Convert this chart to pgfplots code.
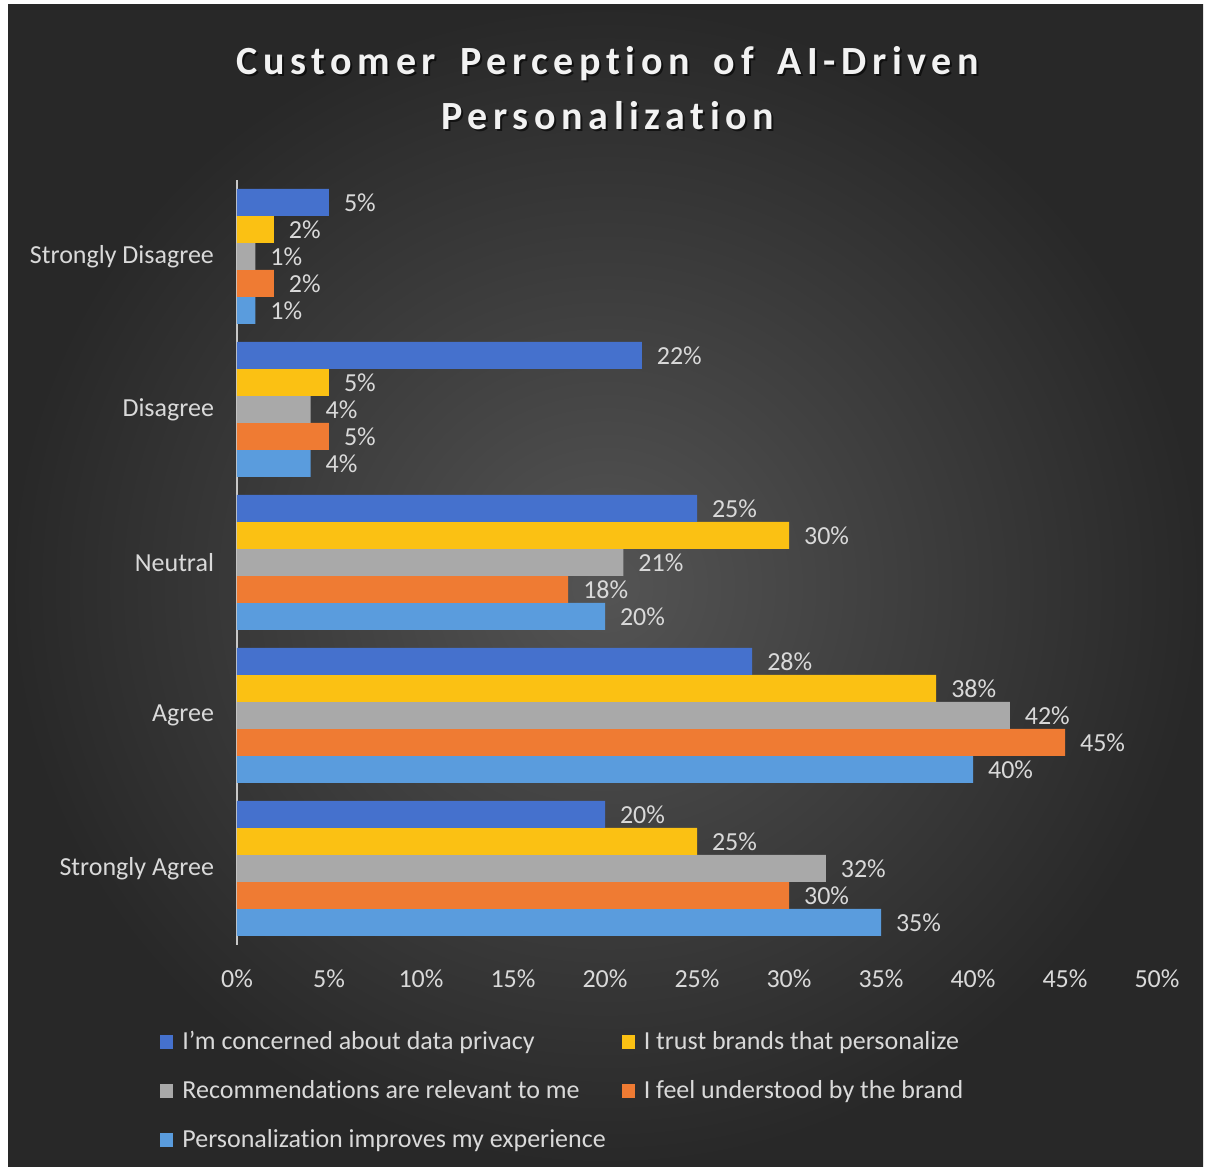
\documentclass[border=0pt]{standalone}
\usepackage{fontspec}
\setmainfont{Carlito}[Ligatures={NoCommon}]
\newfontfamily\titlefont{Carlito}[LetterSpace=14,WordSpace=1.65,Ligatures={NoCommon}]
\usepackage{pgfplots}
\pgfplotsset{compat=1.18}
\definecolor{sA}{HTML}{4571CD}
\definecolor{sB}{HTML}{FBC113}
\definecolor{sC}{HTML}{A9A9A9}
\definecolor{sD}{HTML}{EF7B33}
\definecolor{sE}{HTML}{5A9CDD}
\definecolor{txt}{HTML}{D9D9D9}
\definecolor{bgin}{HTML}{545454}
\definecolor{bgout}{HTML}{282828}
\begin{document}
\begin{tikzpicture}
\fill[white] (0pt,0pt) rectangle (603pt,585.5pt);
\shade[inner color=bgin, outer color=bgout] (4pt,2pt) rectangle (601.5pt,583pt);
\node[text=black, opacity=0.6, font=\fontsize{20}{27.5}\selectfont\titlefont\bfseries, align=center] at (305pt,540.5pt) {Customer Perception of AI-Driven\\Personalization};
\node[text={rgb,255:red,242;green,242;blue,242}, font=\fontsize{20}{27.5}\selectfont\titlefont\bfseries, align=center] at (304pt,541.5pt) {Customer Perception of AI-Driven\\Personalization};
\begin{axis}[
  at={(118.5pt,113pt)}, anchor=south west,
  scale only axis, width=460pt, height=382.5pt,
  xbar=0pt, bar width=13.5pt,
  xmin=0, xmax=50, ymin=-0.5, ymax=4.5,
  ytick={0,1,2,3,4},
  yticklabels={Strongly Agree,Agree,Neutral,Disagree,Strongly Disagree},
  xtick={0,5,...,50},
  xticklabel={\pgfmathprintnumber{\tick}\%},
  /pgf/number format/assume math mode=true,
  axis lines*=left,
  x axis line style={draw=none},
  y axis line style={draw={rgb,255:red,200;green,200;blue,200}, line width=0.8pt},
  major tick length=0pt,
  ticklabel style={text=txt, font=\fontsize{13}{15}\selectfont},
  yticklabel style={xshift=-8pt},
  xticklabel style={yshift=-9pt},
  nodes near coords={\pgfmathprintnumber{\pgfplotspointmeta}\%},
  every node near coord/.append style={text=txt, font=\fontsize{13}{15}\selectfont, xshift=4pt},
  legend style={at={(axis description cs:-0.0837,-0.107)}, anchor=north west, draw=none, fill=none, text=txt, font=\fontsize{13}{15}\selectfont, inner sep=0pt, row sep=10pt},
  legend columns=2,
  legend cell align=left,
  reverse legend,
  legend style={/tikz/every even column/.append style={column sep=6pt}},
  legend image code/.code={\fill[#1] (0pt,-3.5pt) rectangle (6.5pt,3.5pt);\path (9pt,0pt);},
]
\addplot[draw=none, fill=sE] coordinates {(1,4) (4,3) (20,2) (40,1) (35,0)};
\addplot[draw=none, fill=sD] coordinates {(2,4) (5,3) (18,2) (45,1) (30,0)};
\addplot[draw=none, fill=sC] coordinates {(1,4) (4,3) (21,2) (42,1) (32,0)};
\addplot[draw=none, fill=sB] coordinates {(2,4) (5,3) (30,2) (38,1) (25,0)};
\addplot[draw=none, fill=sA] coordinates {(5,4) (22,3) (25,2) (28,1) (20,0)};
\legend{Personalization improves my experience, I feel understood by the brand, Recommendations are relevant to me, I trust brands that personalize, I'm concerned about data privacy}
\end{axis}
\end{tikzpicture}
\end{document}
